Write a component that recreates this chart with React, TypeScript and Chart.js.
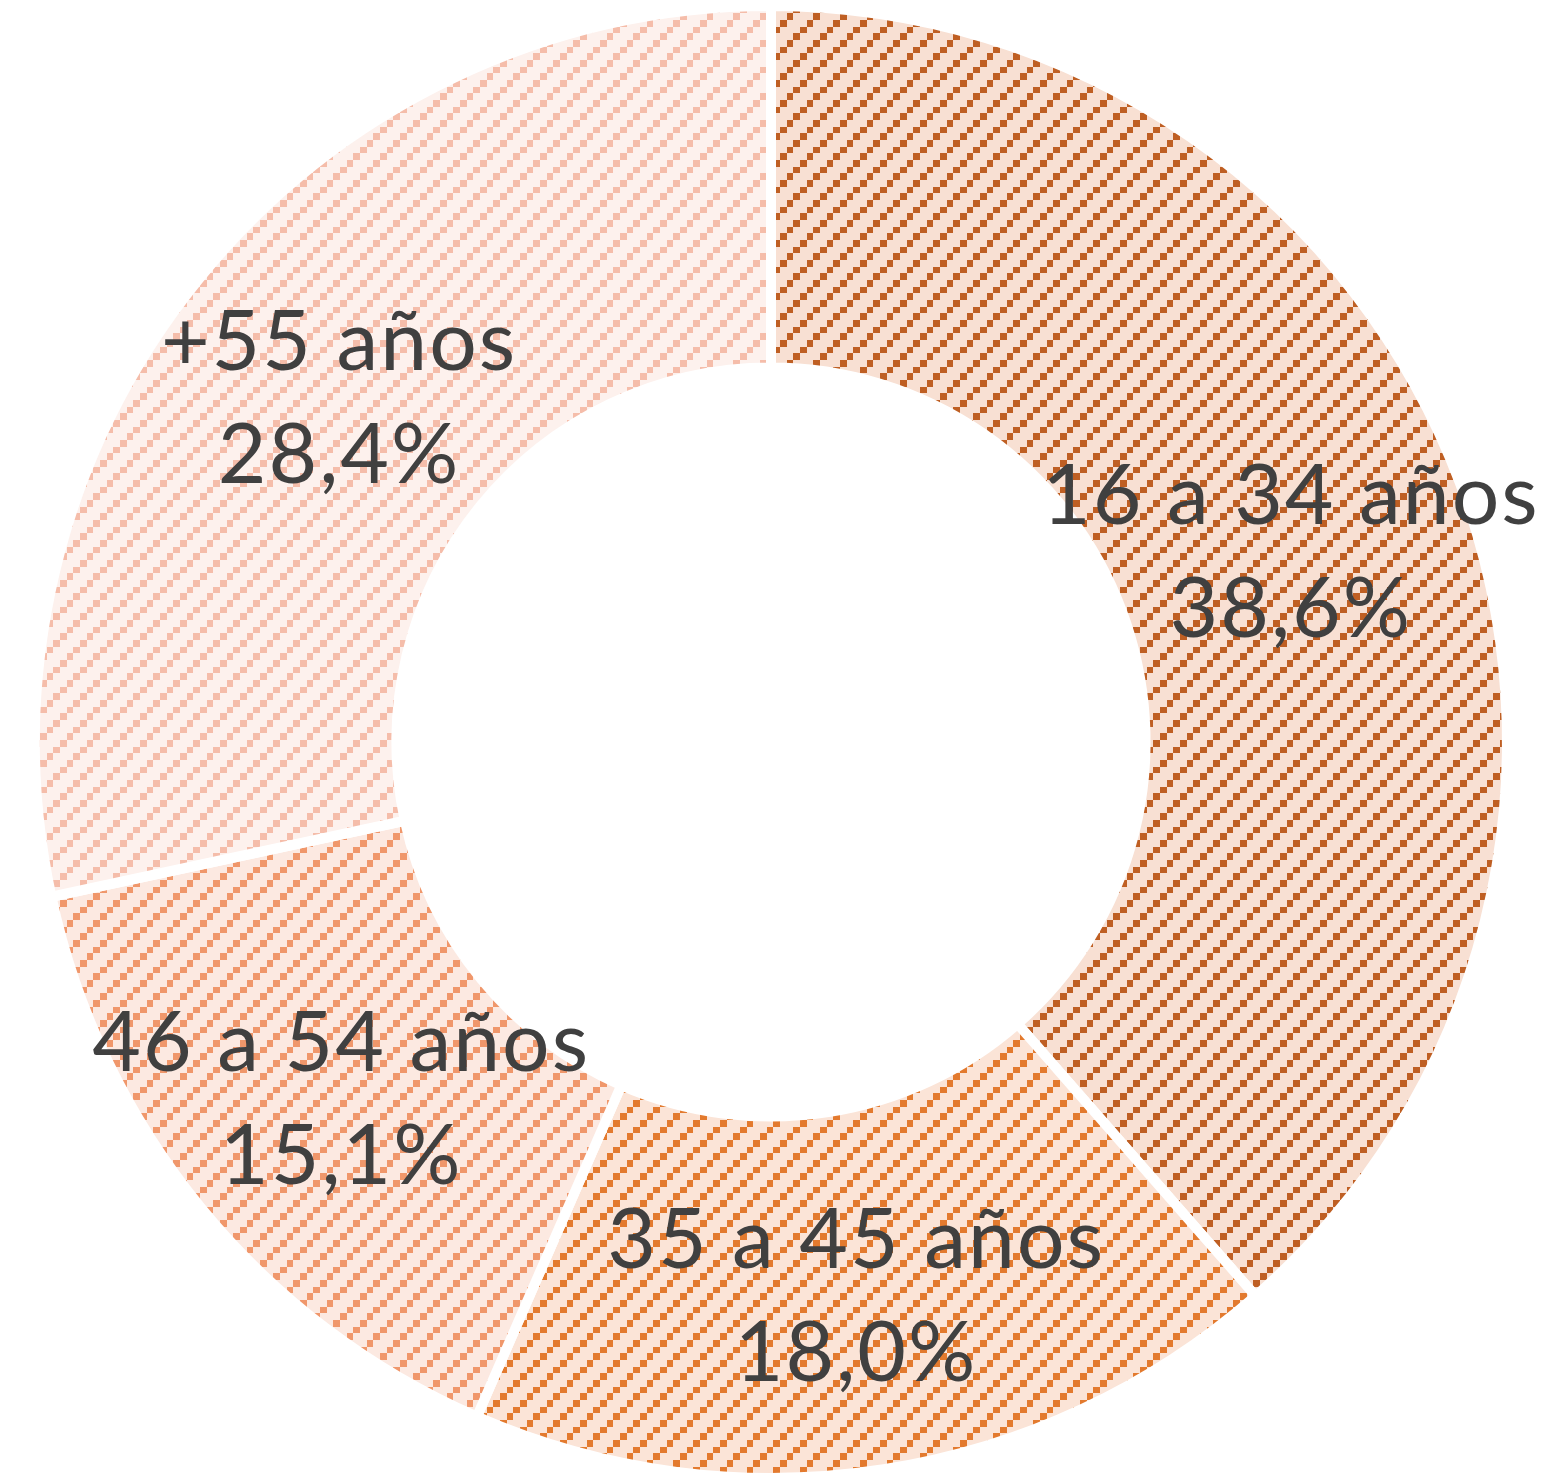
import React, { useEffect, useRef } from "react";
import { Chart, registerables } from "chart.js";

Chart.register(...registerables);

const categories = ["16 a 34 años", "35 a 45 años", "46 a 54 años", "+55 años"];
const values = [38.6, 18.0, 15.1, 28.4];
const valueLabels = ["38,6%", "18,0%", "15,1%", "28,4%"];
const lineColors = ["#bf5f23", "#e37a2e", "#f0976b", "#f5bdaa"];
const bgColors = ["#f8e0d3", "#fbe4d7", "#fce9e1", "#fdf1ed"];

function makePattern(bg: string, fg: string): CanvasPattern | string {
  const size = 80;
  const c = document.createElement("canvas");
  c.width = size;
  c.height = size;
  const ctx = c.getContext("2d");
  if (!ctx) return bg;
  ctx.fillStyle = bg;
  ctx.fillRect(0, 0, size, size);
  ctx.fillStyle = fg;
  const b = (i: number) => Math.round((i * size) / 12);
  for (let r = 0; r < 12; r++) {
    for (let col = 0; col < 12; col++) {
      if ((col + r) % 4 === 0) {
        ctx.fillRect(b(col), b(r), b(col + 1) - b(col), b(r + 1) - b(r));
      }
    }
  }
  const p = ctx.createPattern(c, "repeat");
  return p || bg;
}

const labelPlugin = {
  id: "arcLabels",
  afterDatasetsDraw(chart: any) {
    const ctx = chart.ctx as CanvasRenderingContext2D;
    const meta = chart.getDatasetMeta(0);
    ctx.save();
    ctx.fillStyle = "#404040";
    ctx.font = "84px Lato";
    (ctx as any).letterSpacing = "2px";
    ctx.textAlign = "center";
    ctx.textBaseline = "alphabetic";
    meta.data.forEach((arc: any, i: number) => {
      const p = arc.getCenterPoint();
      ctx.fillText(categories[i], p.x, p.y - 23);
      ctx.fillText(valueLabels[i], p.x, p.y + 90);
    });
    ctx.restore();
  },
};

export default function App() {
  const ref = useRef<HTMLCanvasElement | null>(null);
  useEffect(() => {
    if (!ref.current) return;
    const fills = values.map((_, i) => makePattern(bgColors[i], lineColors[i]));
    const chart = new Chart(ref.current, {
      type: "doughnut",
      data: {
        labels: categories,
        datasets: [
          {
            data: values,
            backgroundColor: fills as any,
            borderColor: "#ffffff",
            borderWidth: 10,
            hoverOffset: 0,
            radius: 736,
            cutout: 371,
          } as any,
        ],
      },
      options: {
        responsive: false,
        animation: false,
        layout: { padding: { left: 0, right: 22, top: 8, bottom: 0 } },
        plugins: {
          legend: { display: false },
          tooltip: { enabled: false },
        },
      },
      plugins: [labelPlugin],
    });
    return () => chart.destroy();
  }, []);
  return (
    <div style={{ position: "fixed", left: 0, top: 0, width: 1564, height: 1476, background: "#fff" }}>
      <canvas ref={ref} width={1564} height={1476} style={{ width: 1564, height: 1476 }} />
    </div>
  );
}
